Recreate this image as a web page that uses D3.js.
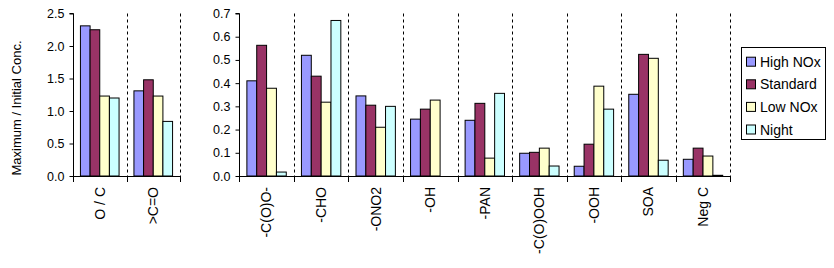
<!DOCTYPE html>
<html>
<head>
<meta charset="utf-8">
<script src="https://cdn.jsdelivr.net/npm/d3@7"></script>
<style>
  html, body { margin: 0; padding: 0; background: #fff; }
  svg { display: block; font-family: "Liberation Sans", Arial, sans-serif; }
</style>
</head>
<body>
<svg id="chart" width="834" height="268"></svg>
<script>
// ---- data ----
const categories = ["O / C", ">C=O", "-C(O)O-", "-CHO", "-ONO2", "-OH", "-PAN", "-C(O)OOH", "-OOH", "SOA", "Neg C"];
const leftCategories = categories.slice(0, 2);
const rightCategories = categories.slice(2);
const seriesNames = ["High NOx", "Standard", "Low NOx", "Night"];
const seriesColors = ["#9999FF", "#993366", "#FFFFCC", "#CCFFFF"];
const highNOx  = [2.31, 1.31, 0.41, 0.52, 0.345, 0.245, 0.24, 0.098, 0.042, 0.352, 0.072];
const standard = [2.25, 1.48, 0.563, 0.43, 0.305, 0.288, 0.313, 0.102, 0.137, 0.524, 0.12];
const lowNOx   = [1.23, 1.23, 0.378, 0.318, 0.21, 0.327, 0.077, 0.12, 0.387, 0.507, 0.086];
const night    = [1.20, 0.84, 0.017, 0.67, 0.30, 0, 0.356, 0.043, 0.288, 0.068, 0.003];
const leftTicks = [0, 0.5, 1.0, 1.5, 2.0, 2.5];
const rightTicks = [0, 0.1, 0.2, 0.3, 0.4, 0.5, 0.6, 0.7];

const seriesValues = [highNOx, standard, lowNOx, night];
const rows = categories.map((c, i) => ({
  cat: c,
  vals: seriesNames.map((s, k) => ({ key: s, value: seriesValues[k][i], color: seriesColors[k] }))
}));

const svg = d3.select("#chart");
const plotTop = 13.5, plotBottom = 176;

function panel(cats, xRange, yMax, ticks) {
  const g = svg.append("g");
  const x = d3.scaleBand().domain(cats).range(xRange).padding(0);
  const x1 = d3.scaleBand().domain(seriesNames).range([0, x.bandwidth()]).paddingInner(0).paddingOuter(0.77);
  const y = d3.scaleLinear().domain([0, yMax]).range([plotBottom, plotTop]);

  // dashed separators
  const bounds = cats.map(c => x(c) + x.bandwidth());
  g.selectAll("line.sep").data(bounds).join("line")
    .attr("class", "sep")
    .attr("x1", d => Math.round(d) + 0.5).attr("x2", d => Math.round(d) + 0.5)
    .attr("y1", plotTop).attr("y2", plotBottom)
    .attr("stroke", "#000").attr("stroke-width", 1).attr("stroke-dasharray", "3,3");

  // bars
  const data = rows.filter(r => cats.includes(r.cat));
  g.selectAll("g.cat").data(data).join("g")
    .attr("class", "cat")
    .attr("transform", d => `translate(${x(d.cat)},0)`)
    .selectAll("rect").data(d => d.vals.filter(v => v.value > 0)).join("rect")
    .attr("x", d => x1(d.key))
    .attr("width", x1.bandwidth())
    .attr("y", d => y(d.value))
    .attr("height", d => plotBottom - y(d.value))
    .attr("fill", d => d.color)
    .attr("stroke", "#000").attr("stroke-width", 1);

  // y axis
  const yAxis = d3.axisLeft(y).tickValues(ticks).tickFormat(d3.format(".1f")).tickSize(4).tickPadding(5);
  const ya = g.append("g").attr("transform", `translate(${Math.round(xRange[0]) + 0.5},0)`).call(yAxis);
  ya.select(".domain").attr("d", `M-4,${y(yMax)}H0V${plotBottom}`);
  ya.selectAll("text").attr("font-size", 12.5).attr("fill", "#000").attr("font-family", "Liberation Sans, Arial, sans-serif");

  // x axis
  const xAxisLine = g.append("g");
  xAxisLine.append("line")
    .attr("x1", xRange[0]).attr("x2", xRange[1])
    .attr("y1", plotBottom + 0.5).attr("y2", plotBottom + 0.5)
    .attr("stroke", "#000");
  const tickPos = [xRange[0]].concat(bounds);
  xAxisLine.selectAll("line.xt").data(tickPos).join("line")
    .attr("class", "xt")
    .attr("x1", d => Math.round(d) + 0.5).attr("x2", d => Math.round(d) + 0.5)
    .attr("y1", plotBottom).attr("y2", plotBottom + 6)
    .attr("stroke", "#000");
  xAxisLine.selectAll("text").data(cats).join("text")
    .attr("transform", d => `translate(${x(d) + x.bandwidth() / 2},${plotBottom + 11}) rotate(-90)`)
    .attr("text-anchor", "end")
    .attr("dy", "0.35em")
    .attr("font-size", 14)
    .attr("fill", "#000")
    .text(d => d);
}

panel(leftCategories, [73, 180], 2.5, leftTicks);
panel(rightCategories, [239.3, 730.3], 0.7, rightTicks);

// y axis title
svg.append("text")
  .attr("transform", "translate(21,108) rotate(-90)")
  .attr("text-anchor", "middle")
  .attr("font-size", 13)
  .attr("fill", "#000")
  .text("Maximum / Initial Conc.");

// legend
const lg = svg.append("g");
lg.append("rect").attr("x", 741.5).attr("y", 47.5).attr("width", 84).attr("height", 92)
  .attr("fill", "#fff").attr("stroke", "#000");
const items = lg.selectAll("g.item").data(seriesNames).join("g")
  .attr("class", "item")
  .attr("transform", (d, i) => `translate(746,${61.7 + i * 22.6})`);
items.append("rect").attr("x", 0.5).attr("y", -4.5).attr("width", 9).attr("height", 9)
  .attr("fill", (d, i) => seriesColors[i]).attr("stroke", "#000");
items.append("text").attr("x", 14).attr("dy", "0.36em").attr("font-size", 14).attr("fill", "#000")
  .text(d => d);
</script>
</body>
</html>
